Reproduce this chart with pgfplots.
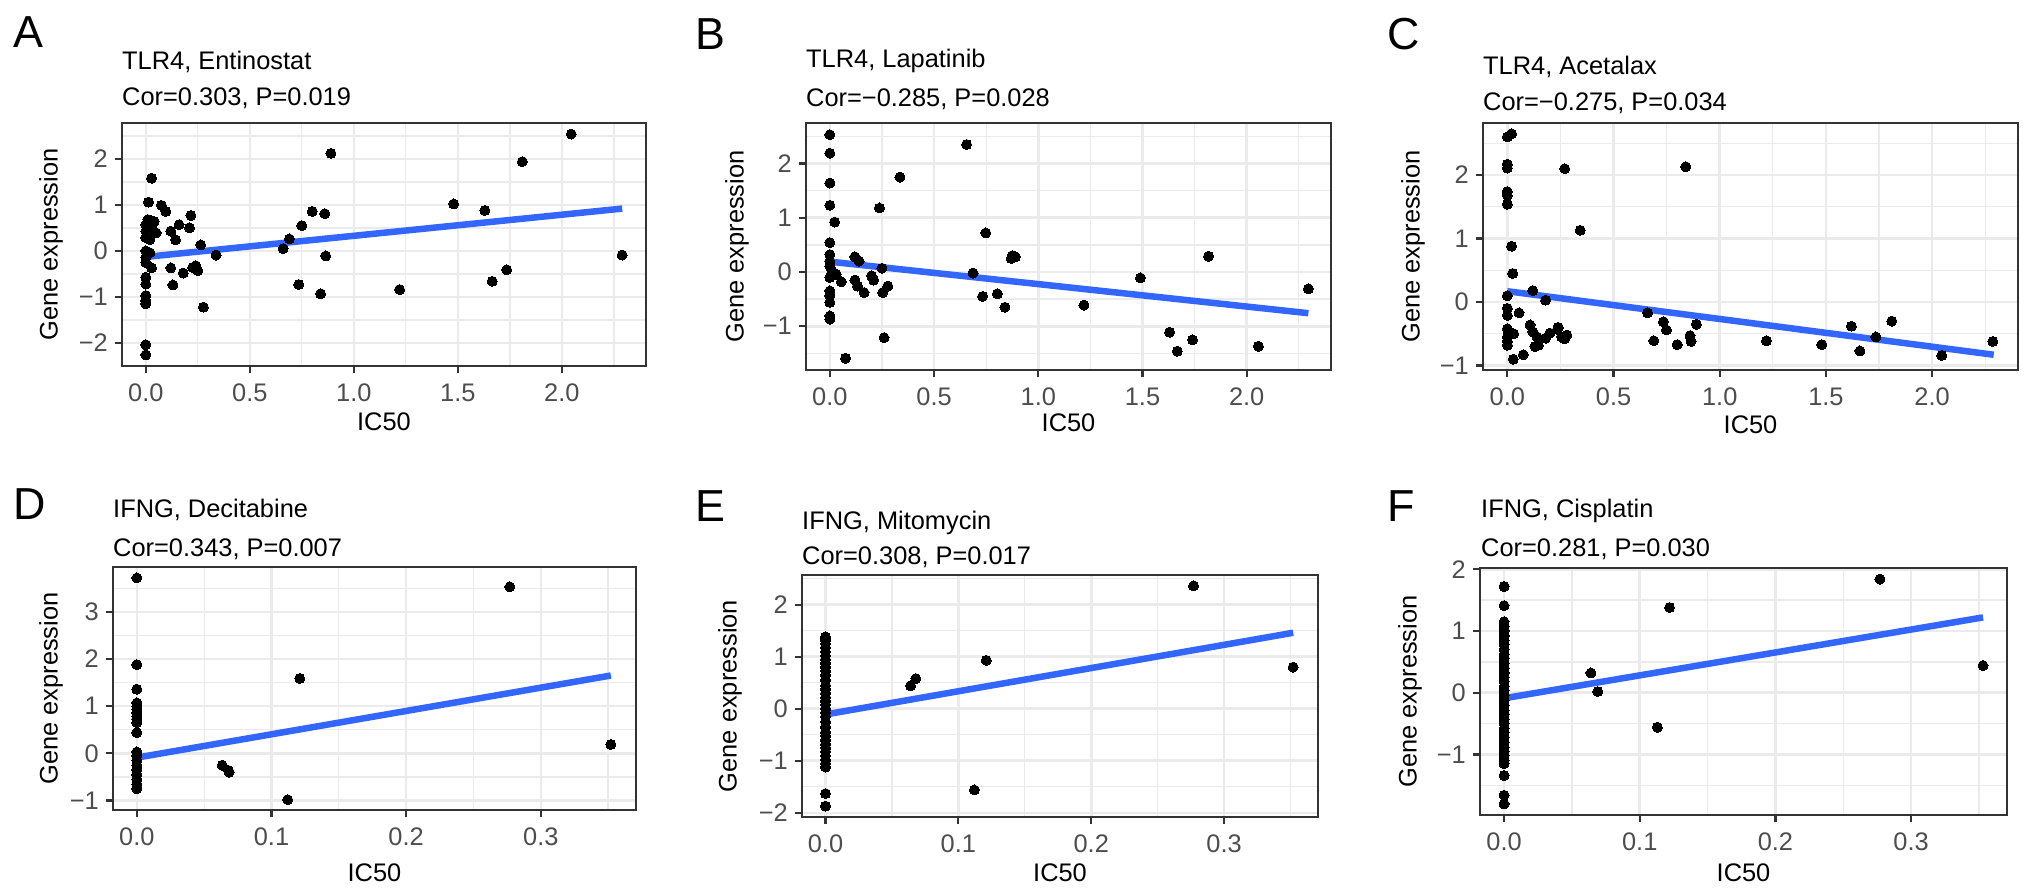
\documentclass[border=0pt]{standalone}
\usepackage{fontspec}
\setmainfont{Liberation Sans}
\usepackage{pgfplots}
\pgfplotsset{compat=1.18}
\definecolor{gridc}{HTML}{EBEBEB}
\definecolor{bordc}{HTML}{333333}
\definecolor{tickc}{HTML}{4D4D4D}
\definecolor{fitc}{HTML}{3366FF}
\newcommand{\tsz}{\fontsize{25.5}{30}\selectfont}
\newcommand{\lsz}{\fontsize{45}{50}\selectfont}
\pgfplotsset{
 panel/.style={
   scale only axis, anchor=north west,
   axis line style={draw=bordc, line width=2.2bp},
   tick align=outside, xtick pos=bottom, ytick pos=left,
   major tick length=7bp, minor tick length=0bp,
   major tick style={draw=bordc, line width=2.2bp},
   xmajorgrids, ymajorgrids, xminorgrids, yminorgrids,
   major grid style={draw=gridc, line width=2.6bp},
   minor grid style={draw=gridc, line width=1.3bp},
   tick label style={font=\tsz, text=tickc, inner sep=0pt},
   xticklabel style={anchor=north, yshift=-11bp},
   yticklabel style={anchor=east, xshift=-7bp},
   label style={font=\tsz, text=black, inner sep=0pt},
   xlabel={IC50}, ylabel={Gene expression},
   clip=false,
 },
 bigx/.style={xmin=-0.1145, xmax=2.4045, xtick={0,0.5,1,1.5,2}, xticklabels={0.0,0.5,1.0,1.5,2.0},
   minor xtick={0.25,0.75,1.25,1.75,2.25}},
 smallx/.style={xmin=-0.0177, xmax=0.3707, xtick={0,0.1,0.2,0.3}, xticklabels={0.0,0.1,0.2,0.3},
   minor xtick={0.05,0.15,0.25,0.35}},
 xlab/.style={xlabel style={at={(axis description cs:0.5,0)}, anchor=center, yshift=-#1bp}},
 ylab/.style={ylabel style={at={([xshift=-#1bp]axis description cs:0,0.5)}, anchor=center}},
 pts/.style={only marks, mark=*, mark size=5bp, mark options={draw=black, fill=black, line width=0pt}},
 fit/.style={no marks, draw=fitc, line width=6.5bp},
}
\begin{document}
\begin{tikzpicture}[x=1bp,y=1bp]
\useasboundingbox (0,0) rectangle (2032,895);

% ---------- A ----------
\begin{axis}[panel, bigx, at={(122bp,772bp)}, width=524bp, height=243bp,
  ymin=-2.5, ymax=2.78, ytick={-2,-1,0,1,2}, yticklabels={−2,−1,0,1,2},
  minor ytick={-1.5,-0.5,0.5,1.5,2.5}, xlab=56, ylab=71]
\addplot[pts] coordinates {
(0.028,1.58) (0.013,1.06) (0.01,0.68) (0.025,0.66) (0.04,0.64) (0.0,0.57) (0.028,0.54)
(0.0,0.43) (0.05,0.39) (0.0,0.29) (0.02,0.25) (0.0,0.0) (0.02,-0.04) (0.0,-0.14) (0.0,-0.25)
(0.028,-0.37) (0.0,-0.57) (0.0,-0.72) (0.0,-0.97) (0.0,-1.08) (0.0,-1.15) (0.0,-2.04) (0.0,-2.26)
(0.075,0.99) (0.096,0.86) (0.217,0.77) (0.16,0.57) (0.21,0.5) (0.12,0.43) (0.143,0.24)
(0.264,0.13) (0.338,-0.09) (0.12,-0.37) (0.225,-0.36) (0.24,-0.32) (0.25,-0.43) (0.18,-0.48)
(0.13,-0.74) (0.277,-1.22)
(0.66,0.05) (0.69,0.26) (0.735,-0.73) (0.75,0.55) (0.80,0.86) (0.84,-0.93) (0.86,0.81)
(0.865,-0.11) (0.89,2.12) (1.22,-0.84) (1.48,1.02) (1.63,0.88) (1.665,-0.66) (1.735,-0.41)
(1.81,1.94) (2.045,2.54) (2.29,-0.09)
};
\addplot[fit] coordinates {(0,-0.13) (2.29,0.92)};
\end{axis}

% ---------- B ----------
\begin{axis}[panel, bigx, at={(806bp,772bp)}, width=525bp, height=247bp,
  ymin=-1.807, ymax=2.747, ytick={-1,0,1,2}, yticklabels={−1,0,1,2},
  minor ytick={-1.5,-0.5,0.5,1.5,2.5}, xlab=53, ylab=69]
\addplot[pts] coordinates {
(0,2.53) (0,2.19) (0,1.64) (0,1.23) (0.023,0.92) (0,0.54) (0,0.32) (0,0.2) (0,0.11)
(0.01,0.02) (0.03,-0.04) (0,-0.1) (0,-0.35) (0,-0.44) (0,-0.56) (0,-0.81) (0,-0.87)
(0.336,1.75) (0.238,1.18) (0.12,0.28) (0.14,0.2) (0.055,-0.18) (0.12,-0.15) (0.133,-0.26)
(0.164,-0.38) (0.2,-0.07) (0.21,-0.15) (0.253,-0.38) (0.278,-0.26) (0.26,-1.21) (0.075,-1.59)
(0.25,0.07)
(0.656,2.35) (0.687,-0.02) (0.733,-0.45) (0.748,0.72) (0.804,-0.4) (0.84,-0.65) (0.87,0.25)
(0.875,0.3) (0.89,0.28) (1.219,-0.61) (1.49,-0.11) (1.63,-1.11) (1.667,-1.46) (1.74,-1.25)
(1.817,0.29) (2.056,-1.37) (2.296,-0.31)
};
\addplot[fit] coordinates {(0,0.19) (2.296,-0.76)};
\end{axis}

% ---------- C ----------
\begin{axis}[panel, bigx, at={(1483bp,772bp)}, width=535bp, height=247bp,
  ymin=-1.07, ymax=2.82, ytick={-1,0,1,2}, yticklabels={−1,0,1,2},
  minor ytick={-0.5,0.5,1.5,2.5}, xlab=55, ylab=70]
\addplot[pts] coordinates {
(0,2.6) (0.02,2.65) (0,2.17) (0,2.11) (0,1.74) (0,1.68) (0,1.54) (0.02,0.88) (0.025,0.45)
(0,0.1) (0,-0.1) (0,-0.21) (0,-0.42) (0.03,-0.5) (0,-0.55) (0,-0.62) (0,-0.68) (0.028,-0.9)
(0.27,2.1) (0.343,1.13) (0.12,0.18) (0.18,0.03) (0.055,-0.17) (0.107,-0.36) (0.12,-0.47)
(0.14,-0.55) (0.146,-0.68) (0.18,-0.57) (0.2,-0.49) (0.236,-0.43) (0.256,-0.55) (0.28,-0.52)
(0.13,-0.7) (0.075,-0.83) (0.24,-0.4) (0.27,-0.58)
(0.66,-0.17) (0.69,-0.61) (0.735,-0.31) (0.749,-0.44) (0.8,-0.67) (0.84,2.13) (0.86,-0.53)
(0.865,-0.62) (0.89,-0.35) (1.22,-0.61) (1.48,-0.67) (1.62,-0.38) (1.66,-0.77) (1.735,-0.55)
(1.81,-0.3) (2.045,-0.84) (2.286,-0.62)
};
\addplot[fit] coordinates {(0,0.17) (2.29,-0.83)};
\end{axis}

% ---------- D ----------
\begin{axis}[panel, smallx, at={(113bp,328bp)}, width=523bp, height=243bp,
  ymin=-1.2, ymax=3.95, ytick={-1,0,1,2,3}, yticklabels={−1,0,1,2,3},
  minor ytick={-0.5,0.5,1.5,2.5,3.5}, xlab=63, ylab=62]
\addplot[pts] coordinates {
(0,3.72) (0.277,3.53) (0,1.88) (0.121,1.59) (0,1.36) (0,1.07) (0,1.0) (0,0.93) (0,0.86)
(0,0.79) (0,0.72) (0,0.65) (0,0.44) (0,0.03) (0,-0.05) (0,-0.15) (0,-0.25) (0,-0.35)
(0,-0.45) (0,-0.55) (0,-0.65) (0,-0.75) (0.352,0.19) (0.0634,-0.25) (0.068,-0.36)
(0.0685,-0.4) (0.112,-0.98)
};
\addplot[fit] coordinates {(0,-0.09) (0.352,1.65)};
\end{axis}

% ---------- E ----------
\begin{axis}[panel, smallx, at={(802bp,320bp)}, width=516bp, height=242bp,
  ymin=-2.08, ymax=2.57, ytick={-2,-1,0,1,2}, yticklabels={−2,−1,0,1,2},
  minor ytick={-1.5,-0.5,0.5,1.5,2.5}, xlab=56, ylab=72]
\addplot[pts] coordinates {
(0,1.38) (0,1.32) (0,1.25) (0,1.18) (0,1.1) (0,1.02) (0,0.95) (0,0.88) (0,0.8) (0,0.73)
(0,0.65) (0,0.55) (0,0.45) (0,0.38) (0,0.3) (0,0.22) (0,0.15) (0,0.08) (0,0.0) (0,-0.07)
(0,-0.15) (0,-0.25) (0,-0.35) (0,-0.45) (0,-0.52) (0,-0.6) (0,-0.68) (0,-0.75) (0,-0.82)
(0,-0.9) (0,-0.98) (0,-1.05) (0,-1.12) (0,-1.63) (0,-1.87)
(0.277,2.36) (0.121,0.93) (0.352,0.8) (0.064,0.44) (0.068,0.58) (0.112,-1.56)
};
\addplot[fit] coordinates {(0,-0.11) (0.352,1.46)};
\end{axis}

% ---------- F ----------
\begin{axis}[panel, smallx, at={(1480bp,327bp)}, width=527bp, height=247bp,
  ymin=-1.98, ymax=2.02, ytick={-1,0,1,2}, yticklabels={−1,0,1,2},
  minor ytick={-1.5,-0.5,0.5,1.5}, xlab=58, ylab=70]
\addplot[pts] coordinates {
(0,1.72) (0,1.41) (0,1.15) (0,1.08) (0,1.0) (0,0.92) (0,0.85) (0,0.78) (0,0.7) (0,0.62)
(0,0.55) (0,0.47) (0,0.4) (0,0.32) (0,0.25) (0,0.18) (0,0.1) (0,0.03) (0,-0.05) (0,-0.12)
(0,-0.2) (0,-0.28) (0,-0.35) (0,-0.43) (0,-0.5) (0,-0.58) (0,-0.65) (0,-0.72) (0,-0.8)
(0,-0.88) (0,-0.95) (0,-1.02) (0,-1.1) (0,-1.15) (0,-1.34) (0,-1.66) (0,-1.8)
(0.277,1.84) (0.122,1.38) (0.353,0.44) (0.064,0.32) (0.069,0.02) (0.113,-0.56)
};
\addplot[fit] coordinates {(0,-0.09) (0.353,1.22)};
\end{axis}

% ---------- titles and panel letters ----------
\begin{scope}[every node/.style={inner sep=0pt, anchor=base west}]
\node[font=\lsz] at (13,847) {A};
\node[font=\lsz] at (695,845) {B};
\node[font=\lsz] at (1387,845) {C};
\node[font=\lsz] at (13,375) {D};
\node[font=\lsz] at (695,373) {E};
\node[font=\lsz] at (1387,373) {F};
\node[font=\tsz] at (122,825) {TLR4, Entinostat};
\node[font=\tsz] at (122,789) {Cor=0.303, P=0.019};
\node[font=\tsz] at (806,827) {TLR4, Lapatinib};
\node[font=\tsz] at (806,788) {Cor=−0.285, P=0.028};
\node[font=\tsz] at (1483,820) {TLR4, Acetalax};
\node[font=\tsz] at (1483,784) {Cor=−0.275, P=0.034};
\node[font=\tsz] at (113,377) {IFNG, Decitabine};
\node[font=\tsz] at (113,338) {Cor=0.343, P=0.007};
\node[font=\tsz] at (802,365) {IFNG, Mitomycin};
\node[font=\tsz] at (802,330) {Cor=0.308, P=0.017};
\node[font=\tsz] at (1481,377) {IFNG, Cisplatin};
\node[font=\tsz] at (1481,338) {Cor=0.281, P=0.030};
\end{scope}
\end{tikzpicture}
\end{document}
